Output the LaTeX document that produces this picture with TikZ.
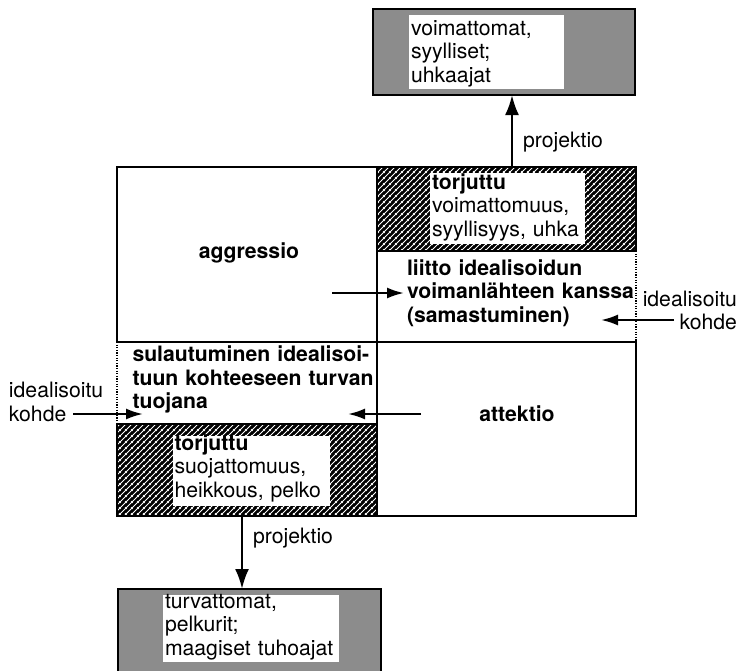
\documentclass[tikz,border=0pt]{standalone}
\usepackage{fontspec}
\setmainfont{TeX Gyre Heros}
\usetikzlibrary{arrows.meta,patterns.meta}

% white diagonal hatching laid over a black ground
\tikzdeclarepattern{
  name=hatchlines,
  type=uncolored,
  bounding box={(0pt,0pt) and (6pt,6pt)},
  tile size={(6pt,6pt)},
  code={
    \draw[line width=1pt] (-1pt,-1pt) -- (7pt,7pt);
    \draw[line width=1pt] (-1pt,5pt) -- (1pt,7pt);
    \draw[line width=1pt] (5pt,-1pt) -- (7pt,1pt);
  }
}

\newcommand\dgfont{\fontsize{21.2}{23.5}\selectfont}

\tikzset{
  cell/.style={anchor=north west, inner sep=0pt, outer sep=0pt},
  frame/.style={line width=2.6pt},
  dotline/.style={line width=1.3pt, dash pattern=on 1.2pt off 1.4pt},
  hatched/.style={preaction={fill=black}, pattern=hatchlines, pattern color=white},
  stipple/.style={fill=black!45},
  blank/.style={fill=white},
  txt/.style={inner sep=0pt, outer sep=0pt, font=\dgfont, align=left, text width=#1, anchor=base west},
  rtxt/.style={inner sep=0pt, outer sep=0pt, font=\dgfont, align=right, text width=#1, anchor=base east},
  projarrow/.style={line width=2.6pt, -{Latex[length=20pt,width=14pt]}},
  smallarrow/.style={line width=2.2pt, -{Latex[length=17pt,width=11pt]}},
}

\begin{document}
\begin{tikzpicture}[x=1pt,y=-1pt]
\useasboundingbox[fill=white] (0,0) rectangle (742,670);

% ---- the four-field grid ----
\node[cell, minimum width=260pt, minimum height=175pt] (aggr) at (117,167) {};
\node[cell, hatched, minimum width=259pt, minimum height=84pt] (torjA) at (377,167) {};
\node[cell, minimum width=259pt, minimum height=91pt] (liitto) at (377,251) {};
\node[cell, minimum width=260pt, minimum height=82pt] (sul) at (117,342) {};
\node[cell, hatched, minimum width=260pt, minimum height=92pt] (torjB) at (117,424) {};
\node[cell, minimum width=259pt, minimum height=174pt] (att) at (377,342) {};

% ---- projection targets ----
\node[cell, stipple, minimum width=262pt, minimum height=86pt] (topbox) at (373,9) {};
\node[cell, stipple, minimum width=263pt, minimum height=83pt] (botbox) at (118,589) {};

% white text panels
\node[cell, blank, minimum width=155pt, minimum height=74pt] (topW) at (409,15) {};
\node[cell, blank, minimum width=155pt, minimum height=71pt] (torjAW) at (430,173) {};
\node[cell, blank, minimum width=157pt, minimum height=70pt] (torjBW) at (173,436) {};
\node[cell, blank, minimum width=176pt, minimum height=67pt] (botW) at (163,595) {};

% ---- outlines ----
\draw[frame] (aggr.north west) rectangle (aggr.south east);
\draw[frame] (torjA.north west) rectangle (torjA.south east);
\draw[frame] (att.north west) rectangle (att.south east);
\draw[frame] (torjB.north west) rectangle (torjB.south east);
\draw[frame] (liitto.north west) -- (liitto.south west) -- (liitto.south east);
\draw[frame] (sul.north west) -- (sul.north east) -- (sul.south east);
\draw[dotline] (liitto.north east) -- (liitto.south east);
\draw[dotline] (sul.north west) -- (sul.south west);
\draw[frame] (topbox.north west) rectangle (topbox.south east);
\draw[frame] (botbox.south west) -- (botbox.north west) -- (botbox.north east) -- (botbox.south east);

% ---- texts ----
\node[txt=160pt] (topT) at (411,35) {voimattomat,\\syylliset;\\uhkaajat};
\node[txt=160pt] (torjAT) at (432,189) {\textbf{torjuttu}\\voimattomuus,\\syyllisyys, uhka};
\node[txt=235pt, font=\dgfont\bfseries] (liittoT) at (407,275) {liitto idealisoidun\\voimanlähteen kanssa\\(samastuminen)};
\node[txt=245pt, font=\dgfont\bfseries] (sulT) at (132.5,361.5) {sulautuminen idealisoi-\\tuun kohteeseen turvan\\tuojana};
\node[txt=160pt] (torjBT) at (174.5,450) {\textbf{torjuttu}\\suojattomuus,\\heikkous, pelko};
\node[txt=180pt] (botT) at (165,608) {turvattomat,\\pelkurit;\\maagiset tuhoajat};
\node[inner sep=0pt, font=\dgfont\bfseries, anchor=base] (aggrT) at (249,258) {aggressio};
\node[inner sep=0pt, font=\dgfont\bfseries, anchor=base] (attT) at (517,421) {attektio};
\node[txt=100pt] (leftT) at (9,397.5) {idealisoitu\\kohde};
\node[rtxt=100pt] (rightT) at (737,306) {idealisoitu\\kohde};
\node[txt=90pt] (projA) at (523,147) {projektio};
\node[txt=90pt] (projB) at (253,543) {projektio};

% ---- connectors ----
\coordinate (pA) at (512,167);
\draw[projarrow] (pA) -- (pA |- topbox.south);
\coordinate (pB) at (242,516);
\draw[projarrow] (pB) -- (pB |- botbox.north);

\coordinate (aggrFrom) at (332,293);
\draw[smallarrow, shorten >=3pt] (aggrFrom) -- (aggrFrom -| liittoT.west);

\coordinate (rkFrom) at (674,320);
\coordinate (rkTo) at (601,320);
\draw[smallarrow] (rkFrom) -- (rkTo);

\coordinate (lkFrom) at (73,414);
\coordinate (lkTo) at (143,414);
\draw[smallarrow] (lkFrom) -- (lkTo);

\coordinate (attFrom) at (421,414);
\coordinate (attTo) at (348,414);
\draw[smallarrow] (attFrom) -- (attTo);
\end{tikzpicture}
\end{document}
